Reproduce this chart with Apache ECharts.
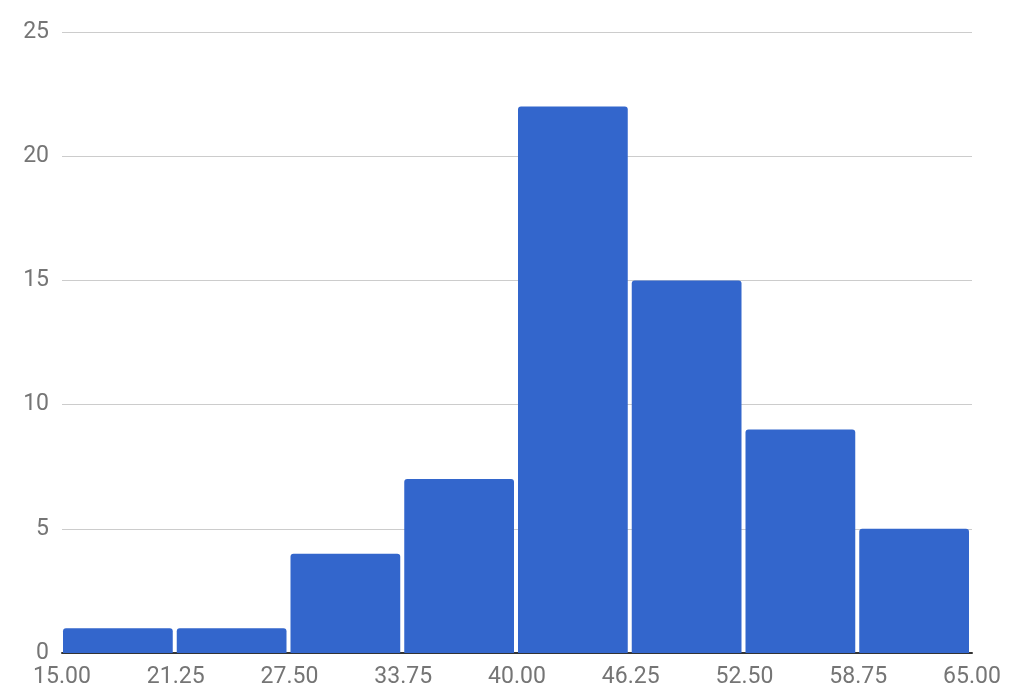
<!DOCTYPE html>
<html>
<head>
<meta charset="utf-8">
<script src="https://cdn.jsdelivr.net/npm/echarts@6/dist/echarts.min.js"></script>
<style>
  html, body { margin: 0; padding: 0; background: #fff; }
  #chart { width: 1014px; height: 700px; }
</style>
</head>
<body>
<div id="chart"></div>
<script>
// bin edges and counts
var binStarts = [15, 21.25, 27.5, 33.75, 40, 46.25, 52.5, 58.75];
var binWidth = 6.25;
var counts = [1, 1, 4, 7, 22, 15, 9, 5];
var xTicks = ['15.00', '21.25', '27.50', '33.75', '40.00', '46.25', '52.50', '58.75', '65.00'];

var data = binStarts.map(function (s, i) {
  return [s, s + binWidth, counts[i]];
});

var chart = echarts.init(document.getElementById('chart'));
chart.setOption({
  animation: false,
  grid: { left: 62, right: 42, top: 32, bottom: 47 },
  xAxis: {
    type: 'value',
    min: 15,
    max: 65,
    interval: 6.25,
    axisLine: { show: true, onZero: false, lineStyle: { color: '#333', width: 2 } },
    axisTick: { show: false },
    splitLine: { show: false },
    axisLabel: {
      color: '#757575',
      fontFamily: 'Roboto',
      fontSize: 23,
      margin: 13,
      formatter: function (v) {
        var i = Math.round((v - 15) / 6.25);
        return xTicks[i];
      }
    }
  },
  yAxis: {
    type: 'value',
    min: 0,
    max: 25,
    interval: 5,
    axisLine: { show: false },
    axisTick: { show: false },
    splitLine: { lineStyle: { color: '#cccccc', width: 1 } },
    axisLabel: { color: '#757575', fontFamily: 'Roboto', fontSize: 23, margin: 13 }
  },
  series: [{
    type: 'custom',
    data: data,
    encode: { x: [0, 1], y: 2 },
    renderItem: function (params, api) {
      var p0 = api.coord([api.value(0), api.value(2)]);
      var p1 = api.coord([api.value(1), 0]);
      return {
        type: 'rect',
        shape: {
          x: p0[0] + 1,
          y: p0[1],
          width: p1[0] - p0[0] - 4,
          height: p1[1] - p0[1],
          r: [3, 3, 0, 0]
        },
        style: { fill: '#3366cc' }
      };
    }
  }]
});
</script>
</body>
</html>
